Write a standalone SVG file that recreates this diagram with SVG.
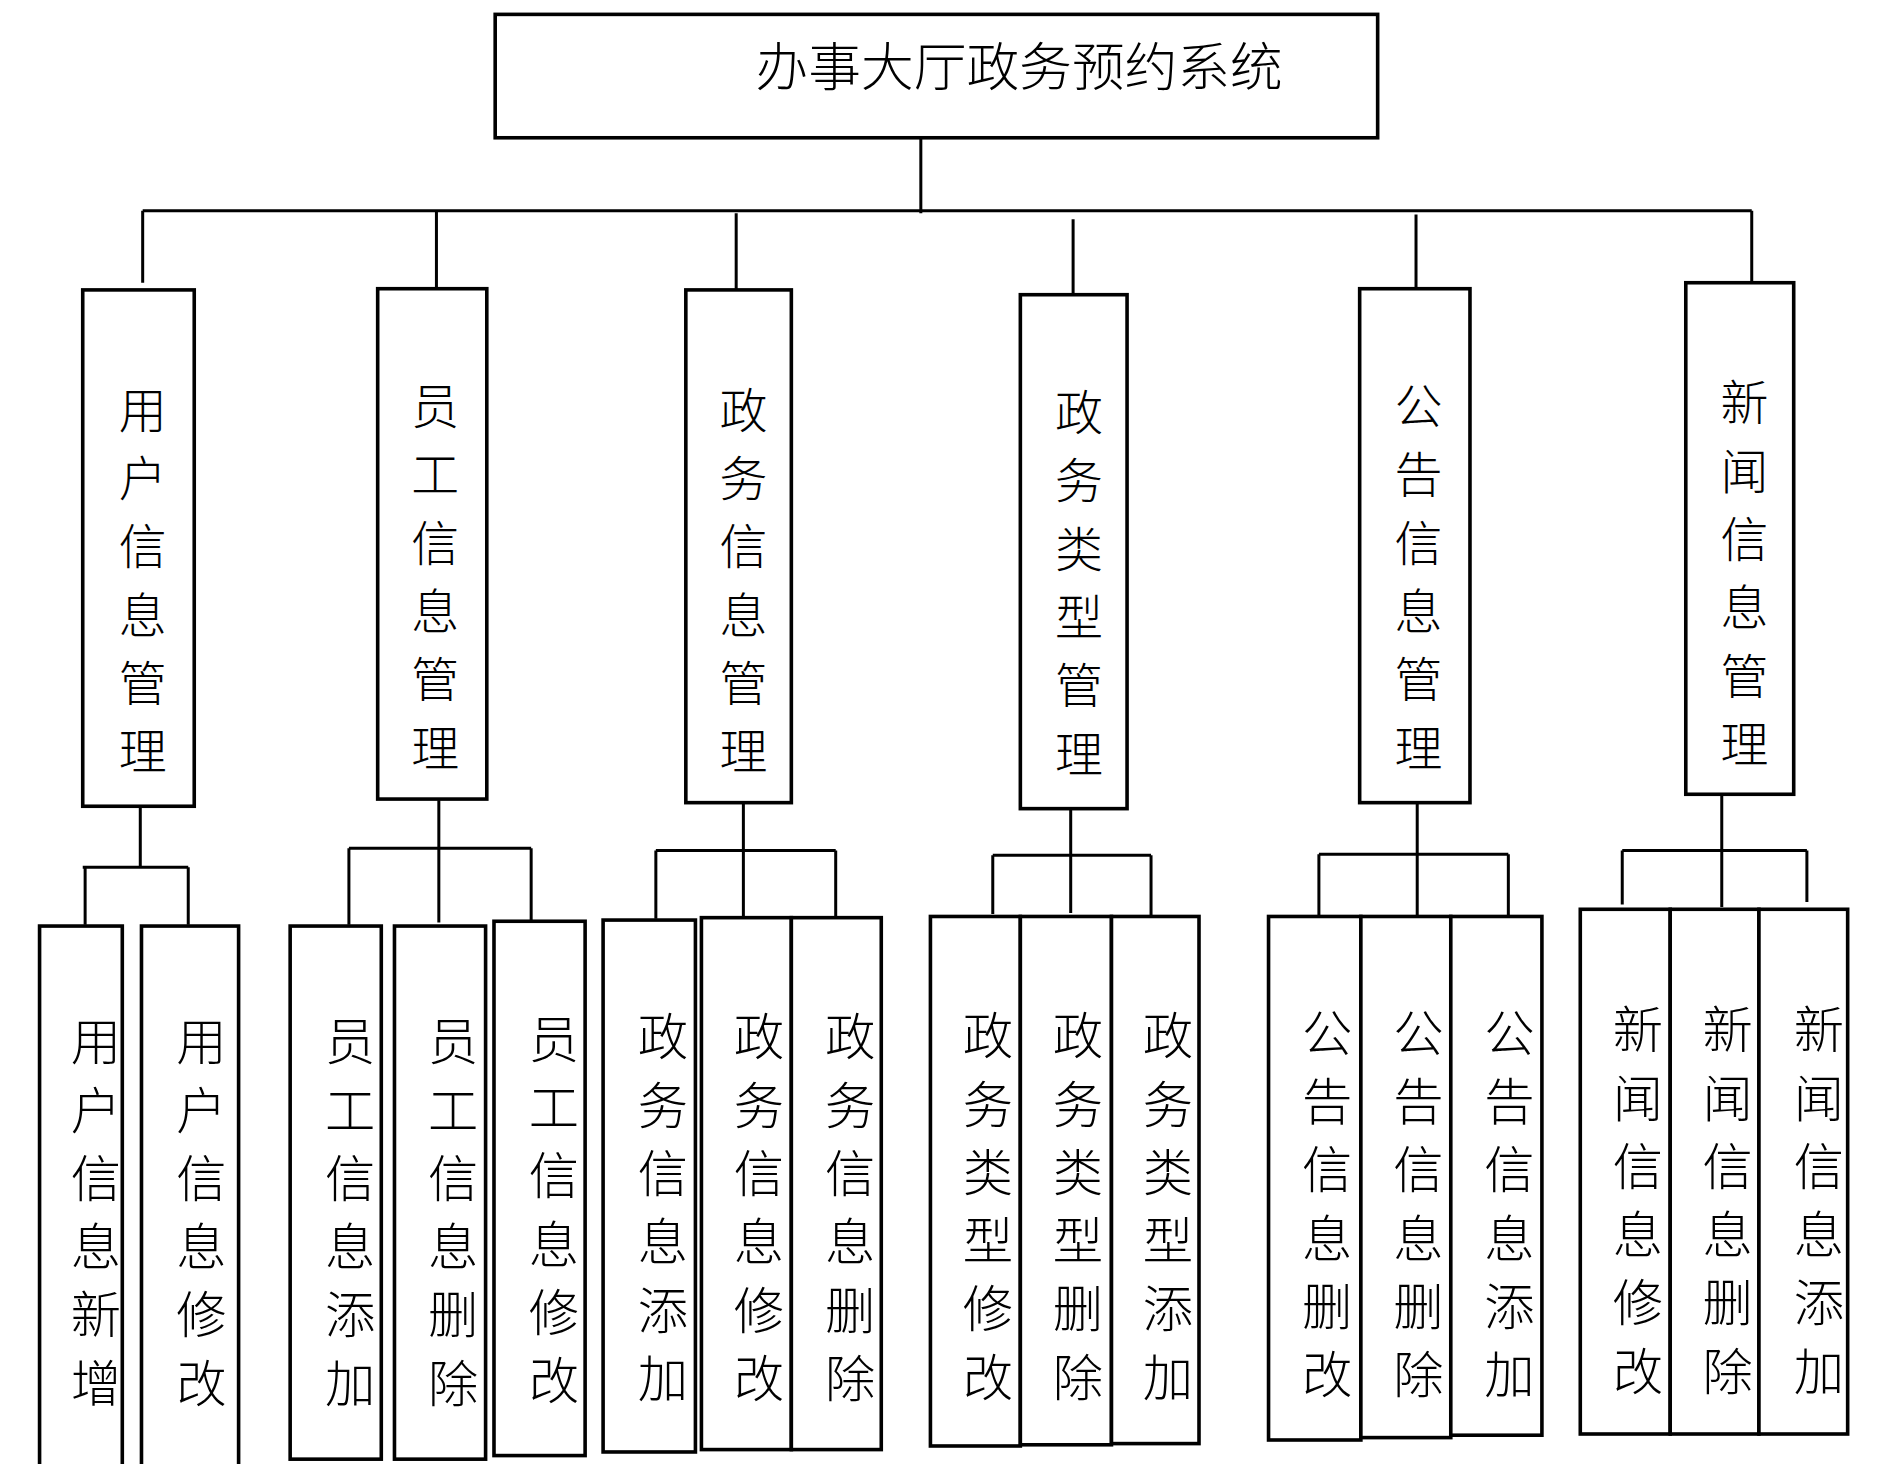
<svg xmlns="http://www.w3.org/2000/svg" width="1879" height="1464" viewBox="0 0 1879 1464">
<style>
.b{fill:#fff;stroke:#000;stroke-width:3}
.l{stroke:#000;stroke-width:2.5;fill:none}
.t{font-family:"Noto Sans CJK SC","Noto Sans CJK TC",sans-serif;font-weight:300;fill:#000;text-anchor:middle}
.t1{font-size:40px}
.t2{font-size:42px}
</style>
<rect width="1879" height="1464" fill="#fff"/>
<g transform="scale(1.199,1.198)">
<g id="connectors">
<path class="l" d="M768 115V178M119 176H1461M119 176V236M364 176V241M614 178V242M895 183V246M1181 179V241M1461 176V236"/>
<path class="l" d="M117 673V724M69 724H157M71 724V772M157 724V772"/>
<path class="l" d="M366 668V770M291 708H443M291 708V772M443 708V768"/>
<path class="l" d="M620 670V766M547 710H697M547 710V767M697 710V766"/>
<path class="l" d="M893 675V762M828 714H960M828 714V763M960 714V764"/>
<path class="l" d="M1182 670V768M1100 713H1258M1100 713V765M1258 713V765"/>
<path class="l" d="M1436 663V757M1353 710H1507M1353 710V755M1507 710V753"/>
</g>
<g id="root"><rect class="b" x="413" y="12" width="736" height="103"/><text class="t" x="850" y="72" font-size="44">办事大厅政务预约系统</text></g>
<g id="n1"><rect class="b" x="69" y="242" width="93" height="431"/><text class="t t1" x="119" y="357"><tspan x="119">用</tspan><tspan x="119" dy="57">户</tspan><tspan x="119" dy="57">信</tspan><tspan x="119" dy="57">息</tspan><tspan x="119" dy="57">管</tspan><tspan x="119" dy="57">理</tspan></text></g>
<g id="n2"><rect class="b" x="315" y="241" width="91" height="426"/><text class="t t1" x="363" y="354"><tspan x="363">员</tspan><tspan x="363" dy="57">工</tspan><tspan x="363" dy="57">信</tspan><tspan x="363" dy="57">息</tspan><tspan x="363" dy="57">管</tspan><tspan x="363" dy="57">理</tspan></text></g>
<g id="n3"><rect class="b" x="572" y="242" width="88" height="428"/><text class="t t1" x="620" y="357"><tspan x="620">政</tspan><tspan x="620" dy="57">务</tspan><tspan x="620" dy="57">信</tspan><tspan x="620" dy="57">息</tspan><tspan x="620" dy="57">管</tspan><tspan x="620" dy="57">理</tspan></text></g>
<g id="n4"><rect class="b" x="851" y="246" width="89" height="429"/><text class="t t1" x="900" y="359"><tspan x="900">政</tspan><tspan x="900" dy="57">务</tspan><tspan x="900" dy="57">类</tspan><tspan x="900" dy="57">型</tspan><tspan x="900" dy="57">管</tspan><tspan x="900" dy="57">理</tspan></text></g>
<g id="n5"><rect class="b" x="1134" y="241" width="92" height="429"/><text class="t t1" x="1183" y="354"><tspan x="1183">公</tspan><tspan x="1183" dy="57">告</tspan><tspan x="1183" dy="57">信</tspan><tspan x="1183" dy="57">息</tspan><tspan x="1183" dy="57">管</tspan><tspan x="1183" dy="57">理</tspan></text></g>
<g id="n6"><rect class="b" x="1406" y="236" width="90" height="427"/><text class="t t1" x="1455" y="351"><tspan x="1455">新</tspan><tspan x="1455" dy="57">闻</tspan><tspan x="1455" dy="57">信</tspan><tspan x="1455" dy="57">息</tspan><tspan x="1455" dy="57">管</tspan><tspan x="1455" dy="57">理</tspan></text></g>

<g id="c11"><rect class="b" x="33" y="773" width="69" height="460"/><text class="t t2" y="885"><tspan x="80">用</tspan><tspan x="80" dy="57">户</tspan><tspan x="80" dy="57">信</tspan><tspan x="80" dy="57">息</tspan><tspan x="80" dy="57">新</tspan><tspan x="80" dy="57">增</tspan></text></g>
<g id="c12"><rect class="b" x="118" y="773" width="81" height="460"/><text class="t t2" y="885"><tspan x="168">用</tspan><tspan x="168" dy="57">户</tspan><tspan x="168" dy="57">信</tspan><tspan x="168" dy="57">息</tspan><tspan x="168" dy="57">修</tspan><tspan x="168" dy="57">改</tspan></text></g>

<g id="c21"><rect class="b" x="242" y="773" width="76" height="445"/><text class="t t2" y="885"><tspan x="292">员</tspan><tspan x="292" dy="57">工</tspan><tspan x="292" dy="57">信</tspan><tspan x="292" dy="57">息</tspan><tspan x="292" dy="57">添</tspan><tspan x="292" dy="57">加</tspan></text></g>
<g id="c22"><rect class="b" x="329" y="773" width="76" height="445"/><text class="t t2" y="885"><tspan x="378">员</tspan><tspan x="378" dy="57">工</tspan><tspan x="378" dy="57">信</tspan><tspan x="378" dy="57">息</tspan><tspan x="378" dy="57">删</tspan><tspan x="378" dy="57">除</tspan></text></g>
<g id="c23"><rect class="b" x="412" y="769" width="76" height="446"/><text class="t t2" y="883"><tspan x="462">员</tspan><tspan x="462" dy="57">工</tspan><tspan x="462" dy="57">信</tspan><tspan x="462" dy="57">息</tspan><tspan x="462" dy="57">修</tspan><tspan x="462" dy="57">改</tspan></text></g>

<g id="c31"><rect class="b" x="503" y="768" width="77" height="444"/><text class="t t2" y="881"><tspan x="553">政</tspan><tspan x="553" dy="57">务</tspan><tspan x="553" dy="57">信</tspan><tspan x="553" dy="57">息</tspan><tspan x="553" dy="57">添</tspan><tspan x="553" dy="57">加</tspan></text></g>
<g id="c32"><rect class="b" x="585" y="766" width="75" height="444"/><text class="t t2" y="881"><tspan x="633">政</tspan><tspan x="633" dy="57">务</tspan><tspan x="633" dy="57">信</tspan><tspan x="633" dy="57">息</tspan><tspan x="633" dy="57">修</tspan><tspan x="633" dy="57">改</tspan></text></g>
<g id="c33"><rect class="b" x="660" y="766" width="75" height="444"/><text class="t t2" y="881"><tspan x="709">政</tspan><tspan x="709" dy="57">务</tspan><tspan x="709" dy="57">信</tspan><tspan x="709" dy="57">息</tspan><tspan x="709" dy="57">删</tspan><tspan x="709" dy="57">除</tspan></text></g>

<g id="c41"><rect class="b" x="776" y="765" width="75" height="442"/><text class="t t2" y="880"><tspan x="824">政</tspan><tspan x="824" dy="57">务</tspan><tspan x="824" dy="57">类</tspan><tspan x="824" dy="57">型</tspan><tspan x="824" dy="57">修</tspan><tspan x="824" dy="57">改</tspan></text></g>
<g id="c42"><rect class="b" x="851" y="765" width="76" height="441"/><text class="t t2" y="880"><tspan x="899">政</tspan><tspan x="899" dy="57">务</tspan><tspan x="899" dy="57">类</tspan><tspan x="899" dy="57">型</tspan><tspan x="899" dy="57">删</tspan><tspan x="899" dy="57">除</tspan></text></g>
<g id="c43"><rect class="b" x="927" y="765" width="73" height="440"/><text class="t t2" y="880"><tspan x="974">政</tspan><tspan x="974" dy="57">务</tspan><tspan x="974" dy="57">类</tspan><tspan x="974" dy="57">型</tspan><tspan x="974" dy="57">添</tspan><tspan x="974" dy="57">加</tspan></text></g>

<g id="c51"><rect class="b" x="1058" y="765" width="77" height="437"/><text class="t t2" y="878"><tspan x="1107">公</tspan><tspan x="1107" dy="57">告</tspan><tspan x="1107" dy="57">信</tspan><tspan x="1107" dy="57">息</tspan><tspan x="1107" dy="57">删</tspan><tspan x="1107" dy="57">改</tspan></text></g>
<g id="c52"><rect class="b" x="1135" y="765" width="75" height="435"/><text class="t t2" y="878"><tspan x="1183">公</tspan><tspan x="1183" dy="57">告</tspan><tspan x="1183" dy="57">信</tspan><tspan x="1183" dy="57">息</tspan><tspan x="1183" dy="57">删</tspan><tspan x="1183" dy="57">除</tspan></text></g>
<g id="c53"><rect class="b" x="1210" y="765" width="76" height="433"/><text class="t t2" y="878"><tspan x="1259">公</tspan><tspan x="1259" dy="57">告</tspan><tspan x="1259" dy="57">信</tspan><tspan x="1259" dy="57">息</tspan><tspan x="1259" dy="57">添</tspan><tspan x="1259" dy="57">加</tspan></text></g>

<g id="c61"><rect class="b" x="1318" y="759" width="75" height="438"/><text class="t t2" y="875"><tspan x="1366">新</tspan><tspan x="1366" dy="57">闻</tspan><tspan x="1366" dy="57">信</tspan><tspan x="1366" dy="57">息</tspan><tspan x="1366" dy="57">修</tspan><tspan x="1366" dy="57">改</tspan></text></g>
<g id="c62"><rect class="b" x="1393" y="759" width="74" height="438"/><text class="t t2" y="875"><tspan x="1441">新</tspan><tspan x="1441" dy="57">闻</tspan><tspan x="1441" dy="57">信</tspan><tspan x="1441" dy="57">息</tspan><tspan x="1441" dy="57">删</tspan><tspan x="1441" dy="57">除</tspan></text></g>
<g id="c63"><rect class="b" x="1467" y="759" width="74" height="438"/><text class="t t2" y="875"><tspan x="1517">新</tspan><tspan x="1517" dy="57">闻</tspan><tspan x="1517" dy="57">信</tspan><tspan x="1517" dy="57">息</tspan><tspan x="1517" dy="57">添</tspan><tspan x="1517" dy="57">加</tspan></text></g>
</g>
</svg>
